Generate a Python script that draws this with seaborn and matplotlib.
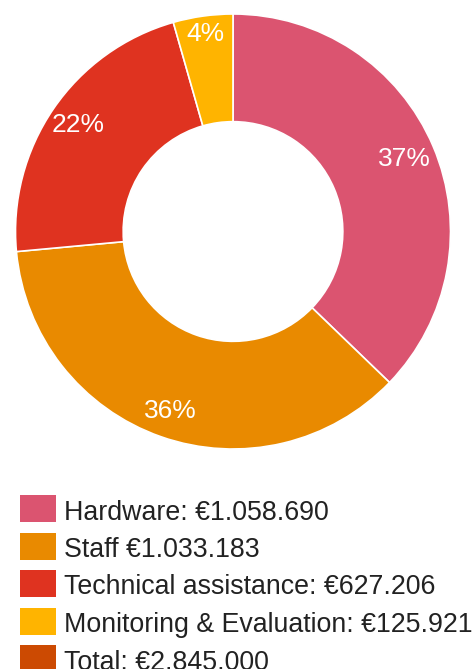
import matplotlib
matplotlib.use("Agg")
import matplotlib.pyplot as plt
from matplotlib.patches import Rectangle
import seaborn as sns

# Budget breakdown (EUR)
categories = ["Hardware", "Staff", "Technical assistance", "Monitoring & Evaluation"]
amounts = [1058690, 1033183, 627206, 125921]
legend_labels = [
    "Hardware: €1.058.690",
    "Staff €1.033.183",
    "Technical assistance: €627.206",
    "Monitoring & Evaluation: €125.921",
    "Total: €2.845.000",
]
slice_colors = ["#DB5470", "#E98A00", "#DF3320", "#FFB400"]
legend_colors = slice_colors + ["#CC4A02"]

sns.set_theme(style="white")
plt.rcParams["font.family"] = ["Liberation Sans", "DejaVu Sans"]

W, H = 473, 669
fig = plt.figure(figsize=(W / 100, H / 100), dpi=100)
fig.patch.set_facecolor("white")

# donut axes: centre (233, 231.5) px, outer radius 217.5 px
cx, cy, r = 233, 231.5, 217.5
ax = fig.add_axes([(cx - r) / W, (H - cy - r) / H, 2 * r / W, 2 * r / H])

wedges, _, pct_texts = ax.pie(
    amounts,
    colors=slice_colors,
    startangle=90,
    counterclock=False,
    radius=1,
    autopct="%.0f%%",
    pctdistance=1.0,
    wedgeprops=dict(width=0.495, edgecolor="white", linewidth=1.2),
    textprops=dict(color="white", fontsize=19),
)
# radial placement of the percentage labels
label_radius = [0.858, 0.876, 0.865, 0.918]
for t, k in zip(pct_texts, label_radius):
    x, y = t.get_position()
    t.set_position((x * k, y * k))

ax.set_xlim(-1, 1)
ax.set_ylim(-1, 1)
ax.set_aspect("equal")
ax.axis("off")

# legend rows below the donut
box_w, box_h = 36, 27
row_step = 37.5
for i, (lab, col) in enumerate(zip(legend_labels, legend_colors)):
    top = 495 + row_step * i
    fig.patches.append(Rectangle((20 / W, (H - top - box_h) / H), box_w / W, box_h / H,
                                 transform=fig.transFigure, facecolor=col,
                                 edgecolor="none", figure=fig))
    base = 519.5 + row_step * i
    fig.text(64 / W, (H - base) / H, lab, fontsize=19.3, color="#222222",
             ha="left", va="baseline")

fig.savefig("out.png", dpi=100, facecolor="white")
